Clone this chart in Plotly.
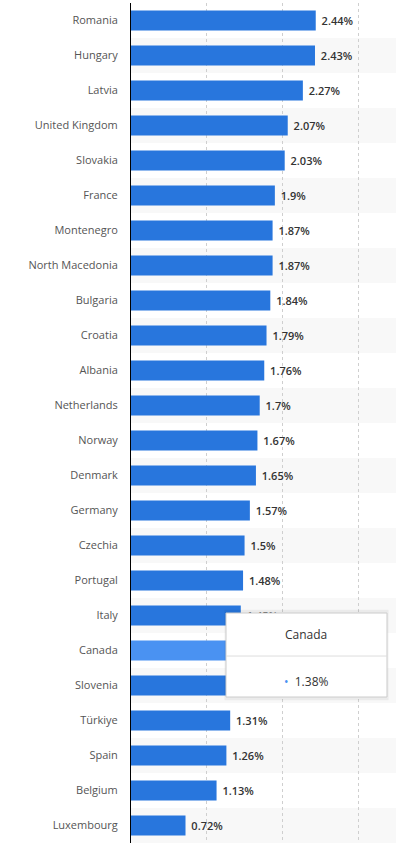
import plotly.graph_objects as go

countries = ["Romania", "Hungary", "Latvia", "United Kingdom", "Slovakia", "France",
             "Montenegro", "North Macedonia", "Bulgaria", "Croatia", "Albania",
             "Netherlands", "Norway", "Denmark", "Germany", "Czechia", "Portugal",
             "Italy", "Canada", "Slovenia", "Türkiye", "Spain", "Belgium", "Luxembourg"]
values = [2.44, 2.43, 2.27, 2.07, 2.03, 1.9, 1.87, 1.87, 1.84, 1.79, 1.76, 1.7,
          1.67, 1.65, 1.57, 1.5, 1.48, 1.45, 1.38, 1.35, 1.31, 1.26, 1.13, 0.72]
highlight = "Canada"

base_color = "#2876dd"
hi_color = "#4a92f2"
colors = [hi_color if c == highlight else base_color for c in countries]
labels = [f"{v:g}%" for v in values]

FONT = "Open Sans, Lato, sans-serif"

fig = go.Figure(go.Bar(
    x=values, y=countries, orientation="h",
    marker=dict(color=colors, line=dict(width=0)),
    text=[" " + l for l in labels], textposition="outside", cliponaxis=False,
    textfont=dict(family=FONT, size=11, color="#333333", weight=600),
    width=0.57,
))

shapes = []
for i in range(len(countries)):
    if i % 2 == 1:
        shapes.append(dict(type="rect", xref="paper", yref="y", x0=0, x1=1,
                           y0=i - 0.5, y1=i + 0.5, fillcolor="#f8f8f8",
                           line=dict(width=0), layer="below"))

# tooltip for highlighted bar
tx0, tx1, ty0, ty1 = 0.3585, 0.966, 0.1738, 0.2738
shapes.append(dict(type="rect", xref="paper", yref="paper", x0=tx0 - 0.006, x1=tx1 + 0.006,
                   y0=ty0 - 0.004, y1=ty1 + 0.004, fillcolor="rgba(0,0,0,0.05)",
                   line=dict(width=0), layer="above"))
shapes.append(dict(type="rect", xref="paper", yref="paper", x0=tx0, x1=tx1,
                   y0=ty0, y1=ty1, fillcolor="white",
                   line=dict(width=1, color="#cccccc"), layer="above"))
shapes.append(dict(type="line", xref="paper", yref="paper", x0=tx0, x1=tx1,
                   y0=0.2226, y1=0.2226, line=dict(width=1, color="#dddddd"), layer="above"))

hi_idx = countries.index(highlight)
annotations = [
    dict(xref="paper", yref="paper", x=(tx0 + tx1) / 2, y=0.2488, text=highlight,
         xanchor="center", yanchor="middle",
         showarrow=False, font=dict(family=FONT, size=12, color="#333333")),
    dict(xref="paper", yref="paper", x=(tx0 + tx1) / 2, y=0.1917,
         xanchor="center", yanchor="middle",
         text=f"<span style='color:{hi_color}'>•</span>  {labels[hi_idx]}",
         showarrow=False, font=dict(family=FONT, size=12, color="#333333")),
]

fig.update_layout(
    width=396, height=855,
    margin=dict(l=131, r=0, t=3, b=12),
    paper_bgcolor="white", plot_bgcolor="white",
    showlegend=False, bargap=0.43,
    shapes=shapes, annotations=annotations,
    xaxis=dict(range=[0, 3.5], showgrid=True, gridcolor="#cfcfcf", griddash="dot",
               gridwidth=1, dtick=1, tick0=0, showticklabels=False, zeroline=False,
               ticks="", fixedrange=True),
    yaxis=dict(autorange="reversed", showline=True, linecolor="#000000", linewidth=1,
               ticks="", ticklabelstandoff=10,
               tickfont=dict(family=FONT, size=11, color="#555555"), fixedrange=True),
)

fig.write_html("out.html", config={"displayModeBar": False},
               post_script="document.body.style.margin='0';document.body.style.overflow='hidden';")
